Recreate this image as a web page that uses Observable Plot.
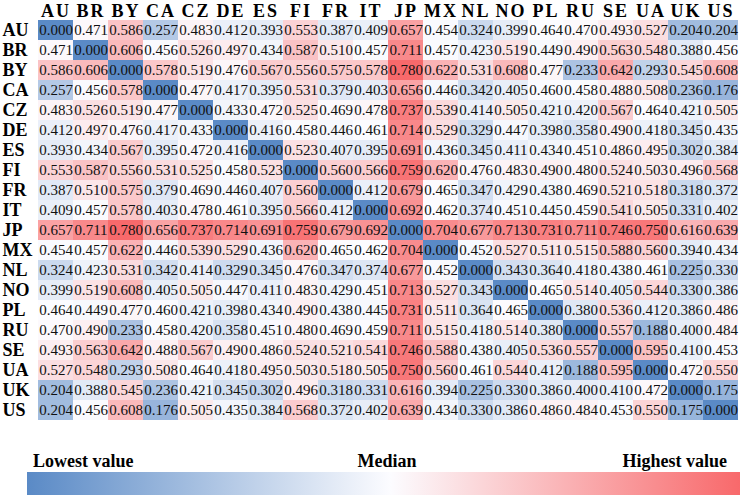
<!DOCTYPE html>
<html><head><meta charset="utf-8">
<script src="https://cdn.jsdelivr.net/npm/d3@7"></script>
<script src="https://cdn.jsdelivr.net/npm/@observablehq/plot@0.6"></script>
<style>
body{margin:0;background:#fff;}
#wrap{position:relative;width:740px;height:497px;overflow:hidden;font-family:"Liberation Serif","Times New Roman",serif;background:#fff;}
#legend{position:absolute;left:0;top:423px;width:740px;height:74px;}
.lab{position:absolute;top:28px;font-family:"Liberation Serif","Times New Roman",serif;font-size:18px;font-weight:bold;line-height:20px;color:#000;white-space:nowrap;}
#bar{position:absolute;left:27px;top:49px;width:713px;height:23px;}
</style></head><body>
<div id="wrap"><div id="chart"></div>
<div id="legend">
  <div class="lab" id="l0" style="left:33px"></div>
  <div class="lab" id="l1" style="left:387px;transform:translateX(-50%)"></div>
  <div class="lab" id="l2" style="right:13px"></div>
  <div id="bar"></div>
</div></div>
<script>
const countries = ["AU","BR","BY","CA","CZ","DE","ES","FI","FR","IT","JP","MX","NL","NO","PL","RU","SE","UA","UK","US"];
const AU = [0.000,0.471,0.586,0.257,0.483,0.412,0.393,0.553,0.387,0.409,0.657,0.454,0.324,0.399,0.464,0.470,0.493,0.527,0.204,0.204];
const BR = [0.471,0.000,0.606,0.456,0.526,0.497,0.434,0.587,0.510,0.457,0.711,0.457,0.423,0.519,0.449,0.490,0.563,0.548,0.388,0.456];
const BY = [0.586,0.606,0.000,0.578,0.519,0.476,0.567,0.556,0.575,0.578,0.780,0.622,0.531,0.608,0.477,0.233,0.642,0.293,0.545,0.608];
const CA = [0.257,0.456,0.578,0.000,0.477,0.417,0.395,0.531,0.379,0.403,0.656,0.446,0.342,0.405,0.460,0.458,0.488,0.508,0.236,0.176];
const CZ = [0.483,0.526,0.519,0.477,0.000,0.433,0.472,0.525,0.469,0.478,0.737,0.539,0.414,0.505,0.421,0.420,0.567,0.464,0.421,0.505];
const DE = [0.412,0.497,0.476,0.417,0.433,0.000,0.416,0.458,0.446,0.461,0.714,0.529,0.329,0.447,0.398,0.358,0.490,0.418,0.345,0.435];
const ES = [0.393,0.434,0.567,0.395,0.472,0.416,0.000,0.523,0.407,0.395,0.691,0.436,0.345,0.411,0.434,0.451,0.486,0.495,0.302,0.384];
const FI = [0.553,0.587,0.556,0.531,0.525,0.458,0.523,0.000,0.560,0.566,0.759,0.620,0.476,0.483,0.490,0.480,0.524,0.503,0.496,0.568];
const FR = [0.387,0.510,0.575,0.379,0.469,0.446,0.407,0.560,0.000,0.412,0.679,0.465,0.347,0.429,0.438,0.469,0.521,0.518,0.318,0.372];
const IT = [0.409,0.457,0.578,0.403,0.478,0.461,0.395,0.566,0.412,0.000,0.692,0.462,0.374,0.451,0.445,0.459,0.541,0.505,0.331,0.402];
const JP = [0.657,0.711,0.780,0.656,0.737,0.714,0.691,0.759,0.679,0.692,0.000,0.704,0.677,0.713,0.731,0.711,0.746,0.750,0.616,0.639];
const MX = [0.454,0.457,0.622,0.446,0.539,0.529,0.436,0.620,0.465,0.462,0.704,0.000,0.452,0.527,0.511,0.515,0.588,0.560,0.394,0.434];
const NL = [0.324,0.423,0.531,0.342,0.414,0.329,0.345,0.476,0.347,0.374,0.677,0.452,0.000,0.343,0.364,0.418,0.438,0.461,0.225,0.330];
const NO = [0.399,0.519,0.608,0.405,0.505,0.447,0.411,0.483,0.429,0.451,0.713,0.527,0.343,0.000,0.465,0.514,0.405,0.544,0.330,0.386];
const PL = [0.464,0.449,0.477,0.460,0.421,0.398,0.434,0.490,0.438,0.445,0.731,0.511,0.364,0.465,0.000,0.380,0.536,0.412,0.386,0.486];
const RU = [0.470,0.490,0.233,0.458,0.420,0.358,0.451,0.480,0.469,0.459,0.711,0.515,0.418,0.514,0.380,0.000,0.557,0.188,0.400,0.484];
const SE = [0.493,0.563,0.642,0.488,0.567,0.490,0.486,0.524,0.521,0.541,0.746,0.588,0.438,0.405,0.536,0.557,0.000,0.595,0.410,0.453];
const UA = [0.527,0.548,0.293,0.508,0.464,0.418,0.495,0.503,0.518,0.505,0.750,0.560,0.461,0.544,0.412,0.188,0.595,0.000,0.472,0.550];
const UK = [0.204,0.388,0.545,0.236,0.421,0.345,0.302,0.496,0.318,0.331,0.616,0.394,0.225,0.330,0.386,0.400,0.410,0.472,0.000,0.175];
const US = [0.204,0.456,0.608,0.176,0.505,0.435,0.384,0.568,0.372,0.402,0.639,0.434,0.330,0.386,0.486,0.484,0.453,0.550,0.175,0.000];
const legendLabels = ["Lowest value","Median","Highest value"];
const colors = ["#5A8AC6","#FCFCFF","#F8696B"];

const rows = [AU,BR,BY,CA,CZ,DE,ES,FI,FR,IT,JP,MX,NL,NO,PL,RU,SE,UA,UK,US];
const data = [];
countries.forEach((r,i)=>rows[i].forEach((v,j)=>data.push({row:r,col:countries[j],value:v})));
const all = data.map(d=>d.value);
const lo = d3.min(all), hi = d3.max(all), med = d3.median(all);
const fmt = d3.format(".3f");
const font = "Liberation Serif";

const plot = Plot.plot({
  width:740, height:423, marginTop:18, marginLeft:35, marginRight:0, marginBottom:2,
  style:`font-family:'Liberation Serif',serif;background:#fff;color:#000;`,
  x:{domain:countries, padding:0},
  y:{domain:countries, padding:0},
  color:{type:"linear", domain:[lo,med,hi], range:colors},
  marks:[
    Plot.cell(data,{x:"col",y:"row",fill:"value",inset:0}),
    Plot.text(data,{x:"col",y:"row",text:d=>fmt(d.value),fontSize:15,fontFamily:font,fill:"#111"}),
    Plot.axisX({anchor:"top",tickSize:0,tickPadding:2,fontSize:18,fontWeight:"bold",fontFamily:font,label:null}),
    Plot.axisY({anchor:"left",tickSize:0,tickPadding:33,textAnchor:"start",fontSize:18,fontWeight:"bold",fontFamily:font,label:null})
  ]
});
d3.select(plot).selectAll("g[aria-label='x-axis tick label'] text").style("letter-spacing","2px");
document.getElementById("chart").appendChild(plot);
legendLabels.forEach((t,i)=>document.getElementById("l"+i).textContent=t);
document.getElementById("bar").style.background = `linear-gradient(to right, ${colors[0]}, ${colors[1]} 51%, ${colors[2]})`;
</script>
</body></html>
